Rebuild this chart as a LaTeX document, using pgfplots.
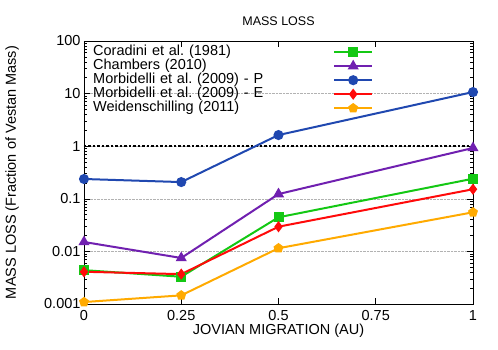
\documentclass[border=0pt]{standalone}
\usepackage{fontspec}
\setmainfont{Liberation Sans}
\usepackage{pgfplots}
\pgfplotsset{compat=1.18}
\definecolor{cgreen}{RGB}{20,200,20}
\definecolor{cpurple}{RGB}{112,32,176}
\definecolor{cblue}{RGB}{32,72,176}
\definecolor{cred}{RGB}{255,10,10}
\definecolor{corange}{RGB}{255,170,0}

\begin{document}
\frenchspacing
\begin{tikzpicture}
\path[use as bounding box] (-84pt,-45pt) rectangle (414pt,304pt);
\begin{axis}[
    at={(0,0)}, anchor=south west,
    scale only axis,
    width=389pt, height=263pt,
    ymode=log,
    xmin=0, xmax=1, ymin=0.001, ymax=100,
    xtick={0,0.25,0.5,0.75,1},
    xticklabels={0,0.25,0.5,0.75,1},
    ytick={0.001,0.01,0.1,1,10,100},
    yticklabels={0.001,0.01,0.1,1,10,100},
    tick pos=both, tick align=inside,
    major tick length=6pt, minor tick length=3pt,
    ymajorgrids,
    major grid style={gray!60, densely dotted, line width=0.5pt},
    axis line style={line width=0.8pt},
    every tick/.style={black, line width=0.6pt},
    ticklabel style={font=\fontsize{14.5}{17}\selectfont},
    xticklabel style={yshift=-3pt},
    /pgf/number format/assume math mode=true,
    every axis title shift=0pt,
    title={MASS LOSS},
    title style={font=\fontsize{12.5}{15}\selectfont, at={(axis description cs:0.5,1)}, yshift=20pt, anchor=center},
    xlabel={JOVIAN MIGRATION (AU)},
    xlabel style={font=\fontsize{14.5}{17}\selectfont, at={(axis description cs:0.5,0)}, yshift=-27pt, anchor=center},
    ylabel={MASS LOSS (Fraction of Vestan Mass)},
    ylabel style={font=\fontsize{14.5}{17}\selectfont, at={(axis description cs:-0.185,0.5)}, anchor=center},
    clip=false,
    legend plot pos=right,
    legend cell align=left,
    legend image code/.code={\draw[mark repeat=2,mark phase=2,#1] plot coordinates {(0pt,0pt)(19pt,0pt)(38pt,0pt)};},
    legend style={at={(axis description cs:0,1)}, anchor=north west, xshift=9pt, yshift=-4pt,
        draw=none, fill=none, inner sep=0pt, row sep=0pt, column sep=4pt,
        font=\fontsize{14.5}{17}\selectfont,
        nodes={inner sep=0pt, text height=10pt, text depth=4pt, text width=236pt, align=left}},
    every axis plot/.append style={line width=2pt},
]
\addplot[black, line width=2pt, dash pattern=on 2.5pt off 2pt, forget plot] coordinates {(0,1) (1,1)};
\addplot[cgreen, mark=square*, mark size=4pt] coordinates {(0,0.0044) (0.25,0.0033) (0.5,0.0445) (1,0.241)};
\addplot[cpurple, mark=triangle*, mark size=4.5pt] coordinates {(0,0.0151) (0.25,0.0075) (0.5,0.123) (1,0.925)};
\addplot[cblue, mark=*, mark size=4pt] coordinates {(0,0.238) (0.25,0.208) (0.5,1.63) (1,10.7)};
\addplot[cred, mark=diamond*, mark size=4pt] coordinates {(0,0.0041) (0.25,0.0037) (0.5,0.0295) (1,0.152)};
\addplot[corange, mark=pentagon*, mark size=4pt] coordinates {(0,0.00109) (0.25,0.00146) (0.5,0.0115) (1,0.0554)};
\legend{Coradini et al. (1981), Chambers (2010), Morbidelli et al. (2009) - P, Morbidelli et al. (2009) - E, Weidenschilling (2011)}
\end{axis}
\end{tikzpicture}
\end{document}
